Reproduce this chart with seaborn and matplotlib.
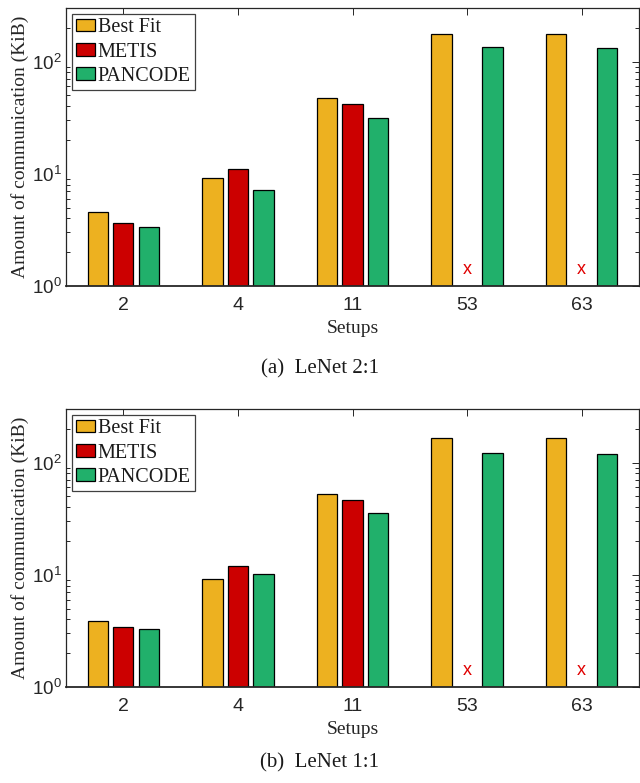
import numpy as np
import pandas as pd
import matplotlib
matplotlib.use("Agg")
import matplotlib.pyplot as plt
import seaborn as sns
from matplotlib.ticker import LogLocator, NullFormatter

sns.set_theme(style="white")
plt.rcParams['font.family'] = ['Liberation Sans', 'DejaVu Sans']
plt.rcParams['mathtext.default'] = 'regular'

setups = ["2", "4", "11", "53", "63"]
methods = ["Best Fit", "METIS", "PANCODE"]

# (a) LeNet 2:1
bestfit_a = [4.58, 9.15, 47.1, 176.0, 176.0]
metis_a = [3.63, 11.1, 41.9, np.nan, np.nan]
pancode_a = [3.34, 7.2, 31.2, 134.0, 132.0]

# (b) LeNet 1:1
bestfit_b = [3.91, 9.15, 52.1, 164.0, 164.0]
metis_b = [3.41, 11.9, 46.7, np.nan, np.nan]
pancode_b = [3.32, 10.2, 35.3, 121.0, 119.0]

captions = ["(a)  LeNet 2:1", "(b)  LeNet 1:1"]
colors = ["#EDB120", "#CC0000", "#21B06B"]

SERIF = ['Liberation Serif', 'DejaVu Serif']


def long_df(bf, me, pc):
    rows = []
    for m, vals in zip(methods, [bf, me, pc]):
        for s, v in zip(setups, vals):
            rows.append({"Setup": s, "Method": m, "Value": v})
    return pd.DataFrame(rows)


fig = plt.figure(figsize=(6.4, 7.83), dpi=100)
W, H = 640, 783
axes_px = [(8, 286), (409, 687)]
left_px, right_px = 66, 639
caption_y = [369, 763]

datasets = [(bestfit_a, metis_a, pancode_a), (bestfit_b, metis_b, pancode_b)]

for k, ((top, bot), data) in enumerate(zip(axes_px, datasets)):
    ax = fig.add_axes([left_px / W, 1 - bot / H, (right_px - left_px) / W, (bot - top) / H])
    ax.set_yscale("log")
    df = long_df(*data)
    sns.barplot(data=df, x="Setup", y="Value", hue="Method", order=setups,
                hue_order=methods, palette=colors, width=0.667, gap=0.2,
                edgecolor="black", linewidth=0.9, errorbar=None, ax=ax,
                saturation=1)
    ax.set_ylim(1, 300)
    ax.set_xlim(-0.5, 4.5)
    # missing METIS markers
    for i, v in enumerate(data[1]):
        if np.isnan(v):
            ax.text(i, 1.4, "x", color="#E00000", ha="center", va="center",
                    fontsize=13, family=['Liberation Sans'])
    ax.set_xlabel("Setups", family=SERIF, fontsize=14, color="#262626", labelpad=4)
    ax.set_ylabel("Amount of communication (KiB)", family=SERIF, fontsize=14,
                  color="#262626", labelpad=2)
    ax.yaxis.set_major_locator(LogLocator(base=10, numticks=10))
    ax.yaxis.set_minor_locator(LogLocator(base=10, subs=np.arange(2, 10), numticks=20))
    ax.yaxis.set_minor_formatter(NullFormatter())
    ax.tick_params(axis="both", which="both", direction="in", top=True, right=True,
                   colors="#262626", width=0.7)
    ax.tick_params(axis="x", which="major", labelsize=14, pad=8)
    ax.tick_params(axis="y", which="major", labelsize=13.5, pad=3)
    ax.tick_params(axis="both", which="major", length=5)
    ax.tick_params(axis="y", which="minor", length=3, left=True, right=True)
    for name, sp in ax.spines.items():
        sp.set_visible(True)
        sp.set_color("#262626")
        sp.set_linewidth(0.9)
    ax.spines['bottom'].set_linewidth(1.3)
    leg = ax.legend(loc="upper left", prop={'family': SERIF, 'size': 14.5},
                    fancybox=False, edgecolor="#404040", framealpha=1,
                    handlelength=0.95, handleheight=0.6, handletextpad=0.12,
                    borderpad=0.2, labelspacing=0.27, borderaxespad=0.3,
                    title=None)
    leg.get_frame().set_linewidth(0.9)
    for t in leg.get_texts():
        t.set_color("#1a1a1a")
    fig.text(0.5, 1 - caption_y[k] / H, captions[k], ha="center", va="center",
             family=SERIF, fontsize=15, color="#1a1a1a")

fig.savefig("out.png", dpi=100)
